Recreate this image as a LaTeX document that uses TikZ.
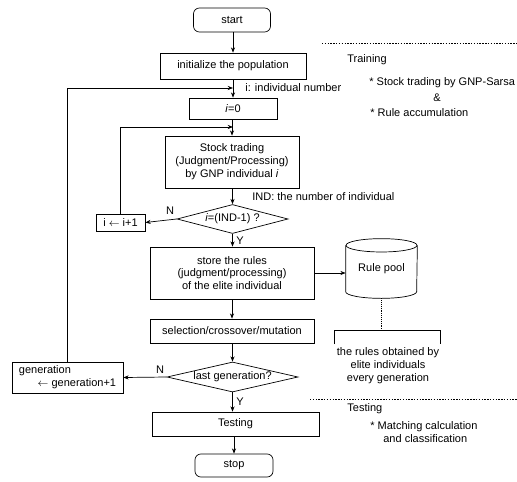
\documentclass[tikz,border=0pt]{standalone}
\usepackage{fontspec}
\setmainfont{Liberation Sans}
\usetikzlibrary{arrows.meta,shapes.geometric}
\begin{document}
\begin{tikzpicture}[x=0.03cm,y=-0.03cm,line width=0.6pt,
    font=\fontsize{9.4}{11}\selectfont,
    every node/.style={inner sep=0pt},
    term/.style={draw,rounded corners=5pt},
    proc/.style={draw,align=center},
    decision/.style={draw,diamond},
    flow/.style={-{Stealth[length=4.5pt,width=3.5pt]}},
    sepline/.style={line width=0.5pt,dash pattern=on 1.2pt off 1.2pt}]
  \useasboundingbox (0,0) rectangle (517,481);
  % main column
  \node[term,minimum width=2.31cm,minimum height=0.72cm] (start) at (232,20) {start};
  \node[proc,minimum width=4.38cm,minimum height=0.78cm] (init) at (233,66) {initialize the population};
  \node[proc,minimum width=2.64cm,minimum height=0.63cm] (izero) at (233,108.5) {\textit{i}=0};
  \node[proc,minimum width=4.02cm,minimum height=1.56cm] (trade) at (232,162)
    {Stock trading\\(Judgment/Processing)\\by GNP individual \textit{i}};
  \node[decision,minimum width=3.33cm,minimum height=0.87cm] (cond1) at (232.5,219)
    {\makebox[0pt]{\textit{i}=(IND-1) ?}};
  \node[proc,minimum width=1.47cm,minimum height=0.51cm] (incr) at (120.5,222.5) {i $\leftarrow$ i+1};
  \node[proc,minimum width=4.92cm,minimum height=1.56cm] (store) at (232,273)
    {store the rules\\(judgment/processing)\\of the elite individual};
  \node[minimum width=2.13cm,minimum height=1.77cm] (rules) at (381.5,268.5) {Rule pool};
  \node[proc,minimum width=4.92cm,minimum height=0.72cm] (select) at (232,331) {selection/crossover/mutation};
  \node[decision,minimum width=3.93cm,minimum height=0.9cm] (cond2) at (232.5,377)
    {\makebox[0pt]{last generation?}};
  \node[proc,align=left,minimum width=3.33cm,minimum height=0.93cm] (gen) at (67.5,377.5)
    {generation\\\hspace{1.7em}$\leftarrow$ generation+1};
  \node[proc,minimum width=5.01cm,minimum height=0.72cm] (test) at (235.5,424) {Testing};
  \node[term,minimum width=2.34cm,minimum height=0.69cm] (stop) at (234,465.5) {stop};
  % cylinder round the rule pool
  \draw ([yshift=-0.2cm]rules.north) ellipse [x radius=1.065cm, y radius=0.2cm];
  \draw ([yshift=-0.2cm]rules.north west) -- ([yshift=0.2cm]rules.south west)
    arc [start angle=180, end angle=360, x radius=1.065cm, y radius=0.2cm]
    -- ([yshift=-0.2cm]rules.north east);
  % loop entries on the main line
  \coordinate (genin) at (233,88);
  \coordinate (loopin) at (233,127);
  % connectors
  \draw[flow] (start.south -| init) -- (init.north);
  \draw[flow] (init) -- (izero);
  \draw[flow] (izero.south -| trade) -- (trade.north);
  \draw[flow] (trade.south -| cond1) -- (cond1.north);
  \draw[flow] (cond1.west) -- (incr.east);
  \draw[flow] (incr.north) |- (loopin);
  \draw[flow] (cond1.south) -- (cond1.south |- store.north);
  \draw[flow] (store.east) -- (store.east -| rules.west);
  \draw[flow] (store.south) -- (select.north);
  \draw[flow] (select.south -| cond2) -- (cond2.north);
  \draw[flow] (cond2.west) -- (gen.east);
  \draw[flow] (gen.north) |- (genin);
  \draw[flow] (cond2.south) -- (cond2.south |- test.north);
  \draw[flow] (test.south -| stop) -- (stop.north);
  % labels on the flow
  \node (lab1) at (170,211) {N};
  \node (lab2) at (240,241) {Y};
  \node (lab3) at (160,370) {N};
  \node (lab4) at (240,402) {Y};
  \node[anchor=west] (inote) at (245,88) {i: individual number};
  \node[anchor=west] (indnote) at (252,197) {IND: the number of individual};
  % rule pool bracket
  \draw[densely dotted] (rules.south) -- (rules.south |- 0,330);
  \draw (334,344) -- (334,330) -- (440,330) -- (440,344);
  \node[align=center] (poolnote) at (388,366) {the rules obtained by\\elite individuals\\every generation};
  % phases
  \draw[sepline] (322,43) -- (517,43);
  \draw[sepline] (310,399) -- (517,399);
  \node[anchor=west] (train) at (347,60) {Training};
  \node[anchor=west] (train1) at (369,83) {* Stock trading by GNP-Sarsa};
  \node (train2) at (437,98) {\&};
  \node[anchor=west] (train3) at (370,113) {* Rule accumulation};
  \node[anchor=west] (testing) at (347,409) {Testing};
  \node[anchor=west] (test1) at (370,427) {* Matching calculation};
  \node[anchor=west] (test2) at (383,439) {and classification};
\end{tikzpicture}
\end{document}
